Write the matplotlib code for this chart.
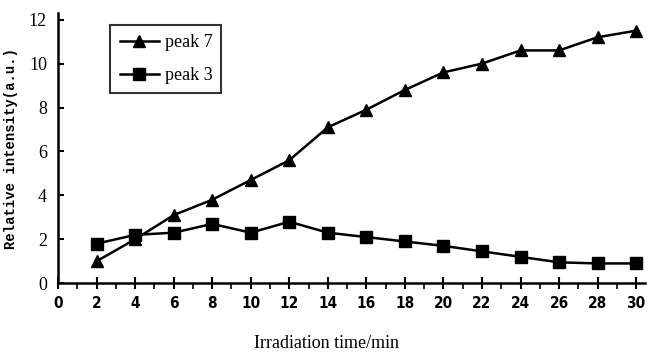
import matplotlib
matplotlib.use("Agg")
import matplotlib.pyplot as plt
from matplotlib.ticker import MultipleLocator

# data
time_min = [2, 4, 6, 8, 10, 12, 14, 16, 18, 20, 22, 24, 26, 28, 30]
peak7 = [1.0, 2.0, 3.1, 3.8, 4.7, 5.6, 7.1, 7.9, 8.8, 9.6, 10.0, 10.6, 10.6, 11.2, 11.5]
peak3 = [1.8, 2.2, 2.3, 2.7, 2.3, 2.8, 2.3, 2.1, 1.9, 1.7, 1.45, 1.2, 0.95, 0.9, 0.9]
x_ticks = list(range(0, 31, 2))
y_ticks = list(range(0, 13, 2))

fig = plt.figure(figsize=(6.52, 3.54), dpi=100)
ax = fig.add_axes([0.089, 0.2, 0.9, 0.763])

ax.plot(time_min, peak7, color="black", lw=1.8, marker="^", ms=9, label="peak 7")
ax.plot(time_min, peak3, color="black", lw=1.8, marker="s", ms=9, label="peak 3")

ax.set_xlim(0, 30.45)
ax.set_ylim(0, 12.3)
ax.set_xticks(x_ticks)
ax.set_yticks(y_ticks)
ax.xaxis.set_minor_locator(MultipleLocator(1))

for s in ["top", "right"]:
    ax.spines[s].set_visible(False)
for s in ["left", "bottom"]:
    ax.spines[s].set_linewidth(1.8)

ax.tick_params(axis="x", which="major", direction="inout", length=9, width=1.5, pad=5)
ax.tick_params(axis="x", which="minor", direction="out", length=4, width=1.2)
ax.tick_params(axis="y", which="major", direction="in", length=4, width=1.5, pad=8)

for lab in ax.get_xticklabels():
    lab.set_fontsize(11)
    lab.set_fontweight("bold")
    lab.set_fontstretch("condensed")
for lab in ax.get_yticklabels():
    lab.set_fontsize(13)
    lab.set_family("Liberation Serif")

ax.set_ylabel("Relative intensity(a.u.)", family="Liberation Mono", fontsize=10,
              fontweight="bold", labelpad=8)
ax.set_xlabel("Irradiation time/min", family="Liberation Serif", fontsize=13)
ax.xaxis.set_label_coords(0.457, -0.19)

leg = ax.legend(loc="upper left", bbox_to_anchor=(0.074, 0.99), frameon=True, fancybox=False,
                edgecolor="black", handlelength=2.2, handletextpad=0.3, borderpad=0.5,
                labelspacing=0.9, prop={"family": "Liberation Serif", "size": 13})
leg.get_frame().set_linewidth(1.5)

fig.savefig("out.png", dpi=100)
